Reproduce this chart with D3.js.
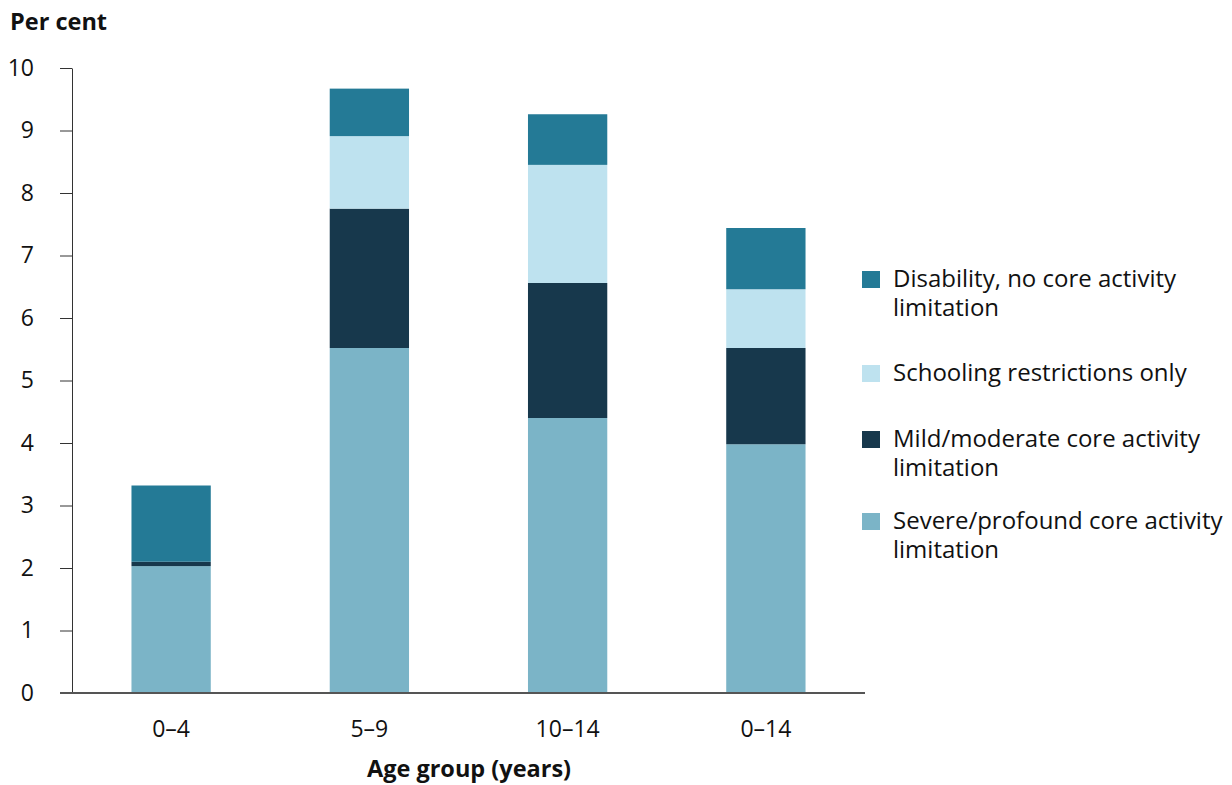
<!DOCTYPE html>
<html><head><meta charset="utf-8">
<script src="https://cdn.jsdelivr.net/npm/d3@7"></script>
<style>body{margin:0;background:#fff}svg{display:block;font-family:"Open Sans","Noto Sans",sans-serif}</style>
</head><body><svg id="c" width="1232" height="785"></svg>
<script>
const categories = ["0–4", "5–9", "10–14", "0–14"];
const seriesNames = ["Severe/profound core activity limitation", "Mild/moderate core activity limitation", "Schooling restrictions only", "Disability, no core activity limitation"];
const severe = [2.03, 5.52, 4.40, 3.98];
const mild = [0.07, 2.23, 2.16, 1.54];
const schooling = [0.00, 1.16, 1.89, 0.94];
const disability = [1.22, 0.76, 0.81, 0.98];
const yTicks = [0,1,2,3,4,5,6,7,8,9,10];
const colors = ["#7bb4c7", "#17384c", "#bee2ef", "#247a96"];

const svg = d3.select("#c");
const x = d3.scaleBand().domain(categories).range([72, 865]).paddingInner(0.6).paddingOuter(0.3);
const y = d3.scaleLinear().domain([0, 10]).range([693, 68]);

const rows = categories.map((c, i) => ({cat: c, s0: severe[i], s1: mild[i], s2: schooling[i], s3: disability[i]}));
const stack = d3.stack().keys(["s0","s1","s2","s3"])(rows);

svg.append("g").selectAll("g").data(stack).join("g")
  .attr("fill", (d, i) => colors[i])
  .selectAll("rect").data(d => d).join("rect")
  .attr("x", d => x(d.data.cat))
  .attr("width", x.bandwidth())
  .attr("y", d => y(d[1]))
  .attr("height", d => y(d[0]) - y(d[1]));

// y axis
const ya = svg.append("g").attr("transform", "translate(72,0)")
  .call(d3.axisLeft(y).tickValues(yTicks).tickSize(12).tickSizeOuter(0).tickPadding(26));
ya.select(".domain").attr("stroke", "#333").attr("stroke-width", 1);
ya.selectAll(".tick line").attr("stroke", "#333");
ya.selectAll(".tick text").attr("font-size", 23).attr("fill", "#111").attr("font-family", "'Open Sans',sans-serif");

// x axis
const xa = svg.append("g").attr("transform", "translate(0,693)")
  .call(d3.axisBottom(x).tickSize(0).tickPadding(28));
xa.select(".domain").attr("d", "M60,0H865").attr("stroke", "#555").attr("stroke-width", 2);
xa.selectAll(".tick text").attr("font-size", 23).attr("fill", "#111").attr("font-family", "'Open Sans',sans-serif");

svg.append("text").attr("x", 10).attr("y", 30).attr("font-size", 23.5).attr("font-weight", "bold").attr("fill", "#111").text("Per cent");
svg.append("text").attr("x", 469).attr("y", 777).attr("text-anchor", "middle").attr("font-size", 23.5).attr("font-weight", "bold").attr("fill", "#111").text("Age group (years)");

// legend
const legend = [
  {i: 3, lines: ["Disability, no core activity", "limitation"], y: 271},
  {i: 2, lines: ["Schooling restrictions only"], y: 365},
  {i: 1, lines: ["Mild/moderate core activity", "limitation"], y: 431},
  {i: 0, lines: ["Severe/profound core activity", "limitation"], y: 513}
];
const lg = svg.append("g").selectAll("g").data(legend).join("g").attr("transform", d => `translate(862,${d.y})`);
lg.append("rect").attr("width", 18).attr("height", 17).attr("fill", d => colors[d.i]);
lg.append("text").attr("x", 31).attr("y", 15.5).attr("font-size", 24).attr("fill", "#111")
  .selectAll("tspan").data(d => d.lines).join("tspan").attr("x", 31).attr("dy", (d, k) => k ? 29.7 : 0).text(d => d);
</script></body></html>
